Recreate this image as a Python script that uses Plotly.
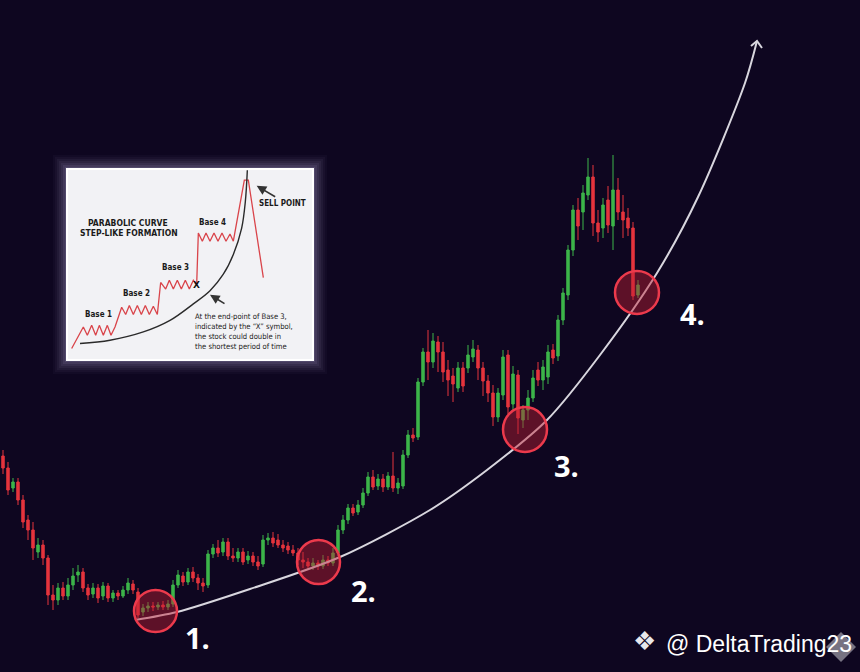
import plotly.graph_objects as go

W, H = 860, 672

# ---------------- main candlestick data (price units) ----------------
candle_idx = list(range(128))
open_p = [216, 204, 184, 190, 172, 152, 142, 120, 127, 114,
          77, 72, 84, 76, 87, 97, 100, 84, 78, 84,
          76, 86, 74, 79, 76, 82, 88, 80, 60, 64,
          66, 65, 67, 65, 68, 87, 96, 90, 100, 94,
          89, 87, 118, 124, 120, 130, 116, 114, 120, 112,
          116, 110, 108, 132, 134, 132, 127, 126, 122, 119,
          112, 110, 106, 109, 106, 112, 109, 119, 142, 152,
          164, 160, 167, 179, 195, 186, 193, 185, 196, 184,
          186, 217, 237, 235, 290, 320, 310, 330, 320, 302,
          296, 284, 304, 304, 315, 322, 304, 291, 279, 255,
          277, 317, 268, 297, 252, 262, 274, 302, 292, 295,
          322, 316, 352, 377, 422, 462, 460, 477, 495, 449,
          444, 472, 446, 482, 460, 454, 444, 377]
close_p = [204, 182, 190, 172, 150, 142, 124, 127, 114, 77,
           72, 84, 76, 87, 96, 100, 84, 77, 84, 74,
           86, 74, 79, 76, 82, 89, 82, 57, 64, 66,
           65, 67, 65, 68, 87, 97, 90, 100, 94, 89,
           86, 118, 124, 119, 130, 116, 114, 120, 110, 116,
           110, 106, 132, 134, 129, 127, 124, 122, 119, 112,
           110, 106, 109, 106, 112, 109, 119, 142, 152, 164,
           159, 167, 179, 195, 185, 193, 185, 196, 184, 189,
           217, 237, 234, 290, 320, 310, 331, 320, 300, 292,
           288, 304, 286, 317, 323, 304, 291, 279, 255, 279,
           315, 265, 298, 254, 262, 274, 294, 292, 305, 320,
           314, 352, 379, 422, 462, 446, 479, 495, 449, 440,
           467, 447, 482, 460, 452, 444, 376, 387]
high_p = [222, 210, 194, 194, 177, 157, 150, 134, 132, 117,
          87, 89, 90, 94, 104, 107, 104, 88, 89, 88,
          90, 89, 82, 82, 86, 94, 92, 84, 68, 70,
          70, 70, 71, 72, 92, 102, 100, 104, 105, 98,
          94, 122, 128, 132, 134, 134, 124, 124, 124, 121,
          120, 116, 137, 139, 140, 138, 132, 130, 127, 124,
          120, 114, 114, 112, 117, 116, 124, 147, 157, 168,
          168, 172, 184, 200, 202, 198, 198, 200, 220, 194,
          222, 242, 244, 294, 324, 342, 339, 336, 330, 312,
          304, 310, 310, 327, 332, 327, 310, 297, 287, 284,
          322, 322, 306, 302, 267, 282, 302, 310, 312, 327,
          328, 357, 384, 427, 467, 474, 487, 514, 507, 462,
          474, 486, 517, 494, 477, 464, 450, 392]
low_p = [198, 177, 180, 167, 144, 132, 112, 114, 107, 67,
         62, 67, 72, 72, 82, 90, 80, 72, 74, 69,
         72, 70, 70, 72, 74, 78, 78, 54, 56, 60,
         61, 62, 62, 62, 65, 84, 86, 87, 90, 82,
         80, 84, 114, 115, 116, 112, 110, 110, 107, 108,
         106, 102, 105, 127, 125, 124, 120, 118, 116, 107,
         104, 102, 102, 102, 103, 106, 106, 116, 138, 148,
         156, 157, 164, 176, 182, 182, 180, 182, 180, 178,
         183, 214, 230, 232, 286, 292, 304, 300, 290, 276,
         270, 280, 280, 299, 310, 292, 276, 270, 246, 250,
         272, 258, 262, 238, 244, 252, 270, 286, 282, 288,
         308, 311, 347, 372, 416, 432, 442, 472, 436, 430,
         434, 439, 422, 452, 434, 436, 372, 374]

# parabolic guide curve (candle index, price)
curve_x = [26.4, 34.8, 49.4, 67.4, 85.4, 96.8, 108.8, 119.4, 130.8, 139.0, 148.4, 150.8]
curve_y = [52, 60, 83, 115, 162, 202, 252, 317, 399, 475, 589, 631]
arrow_x = [149.6, 150.8, 151.8]
arrow_y = [626, 631, 624]

# highlighted touch points: (x0, x1, y0, y1) in candle index / price
touch_labels = ["1.", "2.", "3.", "4."]
touch_x0 = [26.2, 58.8, 100.0, 122.4]
touch_x1 = [34.8, 67.4, 108.8, 131.2]
touch_y0 = [40, 88, 220, 358]
touch_y1 = [82, 132, 265, 401]
label_x = [38.8, 72.0, 112.6, 137.8]
label_y = [35, 82, 207, 359]

# ---------------- inset diagram data ----------------
zig_x = [35, 70, 82, 95, 107, 118, 130, 142, 153, 165, 185,
         197, 208, 220, 232, 244, 256, 268, 280, 292, 302,
         317, 328, 340, 352, 364, 376, 388, 400, 410,
         415, 427, 438, 450, 462, 474, 486, 498, 510, 520,
         553, 565, 610]
zig_y = [565, 500, 525, 495, 525, 495, 525, 495, 525, 500, 440,
         462, 435, 462, 435, 462, 435, 462, 437, 462, 365,
         385, 358, 385, 358, 385, 358, 385, 358, 372,
         215, 240, 215, 240, 215, 240, 215, 240, 218, 240,
         55, 55, 350]
par_x = [60, 150, 250, 330, 400, 450, 490, 520, 545, 556, 562]
par_y = [550, 540, 515, 480, 430, 390, 340, 280, 200, 120, 25]
base_names = ["Base 1", "Base 2", "Base 3", "Base 4"]
base_x = [115, 230, 345, 458]
base_y = [462, 397, 320, 183]
note_lines = ["At the end-point of Base 3,", "indicated by the \u201cX\u201d symbol,",
              "the stock could double in", "the shortest period of time"]
note_y = [467, 497, 528, 560]

BG = "#0e0620"
UP = "#3cb54a"
DOWN = "#e5343d"

fig = go.Figure()

fig.add_trace(go.Candlestick(
    x=candle_idx, open=open_p, high=high_p, low=low_p, close=close_p,
    increasing=dict(line=dict(color=UP, width=1), fillcolor=UP),
    decreasing=dict(line=dict(color=DOWN, width=1), fillcolor=DOWN),
    whiskerwidth=0, showlegend=False, hoverinfo="skip",
    xaxis="x", yaxis="y"))

fig.add_trace(go.Scatter(x=curve_x, y=curve_y, mode="lines",
                         line=dict(color="#d8d6de", width=2, shape="spline", smoothing=0.8),
                         showlegend=False, hoverinfo="skip", xaxis="x", yaxis="y"))
fig.add_trace(go.Scatter(x=arrow_x, y=arrow_y, mode="lines",
                         line=dict(color="#d8d6de", width=2),
                         showlegend=False, hoverinfo="skip", xaxis="x", yaxis="y"))

shapes = []
for x0, x1, y0, y1 in zip(touch_x0, touch_x1, touch_y0, touch_y1):
    shapes.append(dict(type="circle", xref="x", yref="y", x0=x0, x1=x1, y0=y0, y1=y1,
                       fillcolor="rgba(190,30,50,0.45)",
                       line=dict(color="#ec3a4c", width=2.5), layer="above"))

# inset diagram traces
fig.add_trace(go.Scatter(x=zig_x, y=zig_y, mode="lines",
                         line=dict(color="#d9444a", width=1.3),
                         showlegend=False, hoverinfo="skip", xaxis="x2", yaxis="y2"))
fig.add_trace(go.Scatter(x=par_x, y=par_y, mode="lines",
                         line=dict(color="#2a2a2a", width=1.4, shape="spline"),
                         showlegend=False, hoverinfo="skip", xaxis="x2", yaxis="y2"))

# inset box with soft glow (paper coords computed from pixels)
def px(x):
    return x / W

def py(y):
    return 1 - y / H

ix0, ix1, iy0, iy1 = 67, 313, 169, 360
for g, a in [(14, 0.03), (12, 0.04), (10, 0.05), (8, 0.06), (6, 0.07), (4, 0.09), (2, 0.12), (1, 0.15)]:
    shapes.append(dict(type="rect", xref="paper", yref="paper",
                       x0=px(ix0 - g), x1=px(ix1 + g), y0=py(iy1 + g), y1=py(iy0 - g),
                       fillcolor="rgba(200,190,235,%s)" % a, line=dict(width=0), layer="below"))
shapes.append(dict(type="rect", xref="paper", yref="paper",
                   x0=px(ix0), x1=px(ix1), y0=py(iy1), y1=py(iy0),
                   fillcolor="#f2f2f5", line=dict(color="#ffffff", width=2), layer="below"))

# big faint diamond of the watermark
dcx, dcy, dr = 841, 647, 15
shapes.append(dict(type="path", xref="paper", yref="paper",
                   path="M %f %f L %f %f L %f %f L %f %f Z" % (
                       px(dcx), py(dcy - dr), px(dcx + dr), py(dcy),
                       px(dcx), py(dcy + dr), px(dcx - dr), py(dcy)),
                   fillcolor="rgba(205,205,212,0.55)", line=dict(width=0), layer="below"))

annotations = []
for t, x, y in zip(touch_labels, label_x, label_y):
    annotations.append(dict(x=x, y=y, xref="x", yref="y", text="<b>%s</b>" % t,
                            showarrow=False, font=dict(family="Open Sans", size=29, color="#ffffff")))

# inset texts
FONT_IN = "DejaVu Sans Condensed, DejaVu Sans"
annotations.append(dict(x=205, y=185, xref="x2", yref="y2", text="<b>PARABOLIC CURVE</b>",
                        showarrow=False, font=dict(family=FONT_IN, size=8.5, color="#1a1a1a")))
annotations.append(dict(x=207, y=215, xref="x2", yref="y2", text="<b>STEP-LIKE FORMATION</b>",
                        showarrow=False, font=dict(family=FONT_IN, size=8.5, color="#1a1a1a")))
for t, x, y in zip(base_names, base_x, base_y):
    annotations.append(dict(x=x, y=y, xref="x2", yref="y2", text="<b>%s</b>" % t,
                            showarrow=False, font=dict(family=FONT_IN, size=8, color="#1a1a1a")))
annotations.append(dict(x=668, y=125, xref="x2", yref="y2", text="<b>SELL POINT</b>",
                        showarrow=False, font=dict(family=FONT_IN, size=8, color="#1a1a1a")))
annotations.append(dict(x=410, y=372, xref="x2", yref="y2", text="<b>X</b>",
                        showarrow=False, font=dict(family="DejaVu Sans", size=9, color="#111111")))
for t, y in zip(note_lines, note_y):
    annotations.append(dict(x=398, y=y, xref="x2", yref="y2", text=t, xanchor="left",
                            showarrow=False, font=dict(family=FONT_IN, size=7.6, color="#1a1a1a")))
# arrows in inset
annotations.append(dict(x=590, y=72, ax=650, ay=108, xref="x2", yref="y2", axref="x2", ayref="y2",
                        text="", showarrow=True, arrowhead=2, arrowsize=1.2, arrowwidth=1.6, arrowcolor="#333333"))
annotations.append(dict(x=450, y=402, ax=498, ay=432, xref="x2", yref="y2", axref="x2", ayref="y2",
                        text="", showarrow=True, arrowhead=2, arrowsize=1.2, arrowwidth=1.6, arrowcolor="#333333"))

# watermark
annotations.append(dict(x=px(658), y=py(658), xref="paper", yref="paper", text="\u2756",
                        showarrow=False, font=dict(family="DejaVu Sans", size=26, color="#e8e8ec")))
annotations.append(dict(x=px(664), y=py(659), xref="paper", yref="paper", text="@ DeltaTrading23",
                        xanchor="left", showarrow=False,
                        font=dict(family="Liberation Sans, Arial", size=23, color="#ffffff")))

fig.update_layout(
    width=W, height=H,
    margin=dict(l=0, r=0, t=0, b=0),
    paper_bgcolor=BG, plot_bgcolor="rgba(0,0,0,0)",
    xaxis=dict(range=[-0.6, -0.6 + W / 5], visible=False, rangeslider=dict(visible=False),
               domain=[0, 1], fixedrange=True),
    yaxis=dict(range=[0, H], visible=False, domain=[0, 1], fixedrange=True),
    xaxis2=dict(range=[21, 759], visible=False, domain=[px(ix0), px(ix1)], anchor="y2", fixedrange=True),
    yaxis2=dict(range=[600, 21], visible=False, domain=[py(iy1), py(iy0)], anchor="x2", fixedrange=True),
    shapes=shapes, annotations=annotations,
)

fig.write_html("out.html", config={"displayModeBar": False},
               post_script="document.body.style.margin='0';document.body.style.background='%s';" % BG)
